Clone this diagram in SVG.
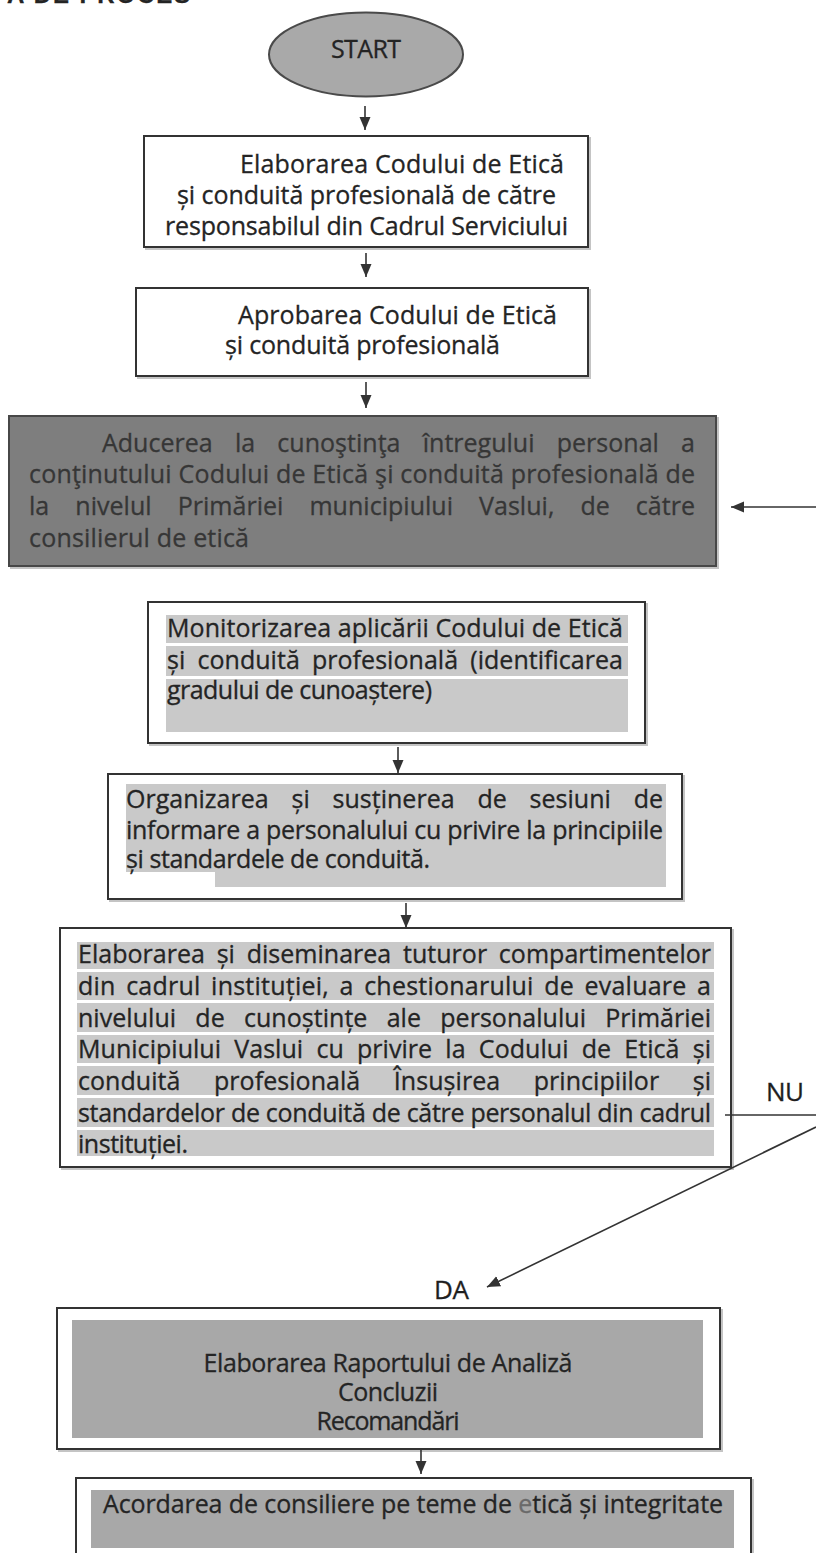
<svg xmlns="http://www.w3.org/2000/svg" width="816" height="1553" viewBox="0 0 816 1553">
<style>
text{font-family:"Open Sans","Noto Sans","DejaVu Sans",sans-serif;font-size:25px;fill:#242424;stroke:#242424;stroke-width:0.3}
.box{fill:#fff;stroke:#333;stroke-width:2}
.shadow{fill:none;stroke:#c4c4c4;stroke-width:2}
.band{fill:#c9c9c9}
.mid{fill:#a8a8a8}
.dark{fill:#7e7e7e;stroke:#474747;stroke-width:2}
text.dt{fill:#363636;stroke:#363636}
.conn{stroke:#333;stroke-width:1.6;fill:none}
text.lbl{font-size:26px;fill:#1e1e1e}
text.title{font-weight:bold;font-family:"Liberation Sans",Arial,sans-serif;font-size:24px}
</style>
<defs>
<marker id="ah" markerUnits="userSpaceOnUse" markerWidth="14" markerHeight="12" refX="13" refY="5.5" orient="auto">
<path d="M0,0 L13,5.5 L0,11 z" fill="#333"/>
</marker>
</defs>
<rect x="0" y="0" width="816" height="1553" fill="#fff"/>

<text class="title" x="7" y="3" textLength="183">A DE PROCES</text>

<g id="start">
<ellipse cx="366" cy="54.5" rx="97" ry="42" fill="#a9a9a9" stroke="#4a4a4a" stroke-width="2"/>
<text x="366" y="58" text-anchor="middle" textLength="70">START</text>
</g>

<g id="n1">
<rect class="shadow" x="146" y="138" width="444" height="111"/>
<rect class="box" x="144" y="136" width="444" height="111"/>
<text x="240" y="173" textLength="324">Elaborarea Codului de Etică</text>
<text x="177" y="204" textLength="379">și conduită profesională de către</text>
<text x="165" y="235" textLength="403">responsabilul din Cadrul Serviciului</text>
</g>

<g id="n2">
<rect class="shadow" x="138" y="290" width="452" height="88"/>
<rect class="box" x="136" y="288" width="452" height="88"/>
<text x="238" y="324" textLength="319">Aprobarea Codului de Etică</text>
<text x="225" y="354" textLength="275">și conduită profesională</text>
</g>

<g id="n3">
<rect class="shadow" x="11" y="418" width="707" height="150"/>
<rect class="dark" x="9" y="416" width="707" height="150"/>
<text class="dt" x="102" y="452" word-spacing="15.7" textLength="593">Aducerea la cunoştinţa întregului personal a</text>
<text class="dt" x="29" y="483" textLength="666">conţinutului Codului de Etică şi conduită profesională de</text>
<text class="dt" x="29" y="515" word-spacing="19.5" textLength="666">la nivelul Primăriei municipiului Vaslui, de către</text>
<text class="dt" x="29" y="547" textLength="220">consilierul de etică</text>
</g>

<g id="n4">
<rect class="shadow" x="150" y="604" width="497" height="141"/>
<rect class="box" x="148" y="602" width="497" height="141"/>
<rect class="band" x="166" y="615" width="462" height="28"/>
<rect class="band" x="166" y="646" width="462" height="30"/>
<rect class="band" x="166" y="679" width="462" height="53"/>
<text x="167" y="637" textLength="456">Monitorizarea aplicării Codului de Etică</text>
<text x="167" y="669" word-spacing="5.6" textLength="456">și conduită profesională (identificarea</text>
<text x="167" y="699" textLength="265">gradului de cunoaștere)</text>
</g>

<g id="n5">
<rect class="shadow" x="110" y="776" width="574" height="125"/>
<rect class="box" x="108" y="774" width="574" height="125"/>
<path class="band" d="M126,784 H666 V887 H215 V872 H126 Z"/>
<text x="126" y="808" word-spacing="16.3" textLength="537">Organizarea și susținerea de sesiuni de</text>
<text x="126" y="839" textLength="537">informare a personalului cu privire la principiile</text>
<text x="126" y="868" textLength="304">și standardele de conduită.</text>
</g>

<g id="n6">
<rect class="shadow" x="62" y="930" width="671" height="239"/>
<rect class="box" x="60" y="928" width="671" height="239"/>
<rect class="band" x="77" y="942" width="637" height="27"/>
<rect class="band" x="77" y="972" width="637" height="28"/>
<rect class="band" x="77" y="1003" width="637" height="29"/>
<rect class="band" x="77" y="1035" width="637" height="28"/>
<rect class="band" x="77" y="1066" width="637" height="29"/>
<rect class="band" x="77" y="1098" width="637" height="29"/>
<rect class="band" x="77" y="1130" width="637" height="26"/>
<text x="78" y="963" word-spacing="5.2" textLength="633">Elaborarea și diseminarea tuturor compartimentelor</text>
<text x="78" y="995" word-spacing="3.8" textLength="633">din cadrul instituției, a chestionarului de evaluare a</text>
<text x="78" y="1027" word-spacing="12.7" textLength="633">nivelului de cunoștințe ale personalului Primăriei</text>
<text x="78" y="1058" word-spacing="6.7" textLength="633">Municipiului Vaslui cu privire la Codului de Etică și</text>
<text x="78" y="1090" word-spacing="27" textLength="633">conduită profesională Însușirea principiilor și</text>
<text x="78" y="1122" textLength="633">standardelor de conduită de către personalul din cadrul</text>
<text x="78" y="1153" textLength="110">instituției.</text>
</g>

<g id="n7">
<rect class="shadow" x="59" y="1310" width="663" height="141"/>
<rect class="box" x="57" y="1308" width="663" height="141"/>
<rect class="mid" x="72" y="1320" width="631" height="118"/>
<text x="388" y="1372" text-anchor="middle" textLength="369">Elaborarea Raportului de Analiză</text>
<text x="388" y="1401" text-anchor="middle" textLength="100">Concluzii</text>
<text x="388" y="1430" text-anchor="middle" textLength="143">Recomandări</text>
</g>

<g id="n8">
<rect class="shadow" x="78" y="1480" width="675" height="90"/>
<rect class="box" x="76" y="1478" width="675" height="90"/>
<rect class="mid" x="91" y="1490" width="643" height="58"/>
<text x="103" y="1513" textLength="620">Acordarea de consiliere pe teme de <tspan fill="#6a6a6a" stroke="#6a6a6a">e</tspan>tică și integritate</text>
</g>

<g id="labels">
<text class="lbl" x="766" y="1101" textLength="38">NU</text>
<text class="lbl" x="434" y="1299" textLength="35">DA</text>
</g>

<g id="connectors">
<line class="conn" x1="365" y1="106" x2="365" y2="130" marker-end="url(#ah)"/>
<line class="conn" x1="366" y1="253" x2="366" y2="277" marker-end="url(#ah)"/>
<line class="conn" x1="366" y1="382" x2="366" y2="408" marker-end="url(#ah)"/>
<line class="conn" x1="816" y1="507" x2="731" y2="507" marker-end="url(#ah)"/>
<line class="conn" x1="398" y1="747" x2="398" y2="773" marker-end="url(#ah)"/>
<line class="conn" x1="406" y1="903" x2="406" y2="928" marker-end="url(#ah)"/>
<line class="conn" x1="725" y1="1115" x2="816" y2="1115"/>
<line class="conn" x1="816" y1="1127" x2="487" y2="1287" marker-end="url(#ah)"/>
<line class="conn" x1="421" y1="1450" x2="421" y2="1474" marker-end="url(#ah)"/>
</g>
</svg>
